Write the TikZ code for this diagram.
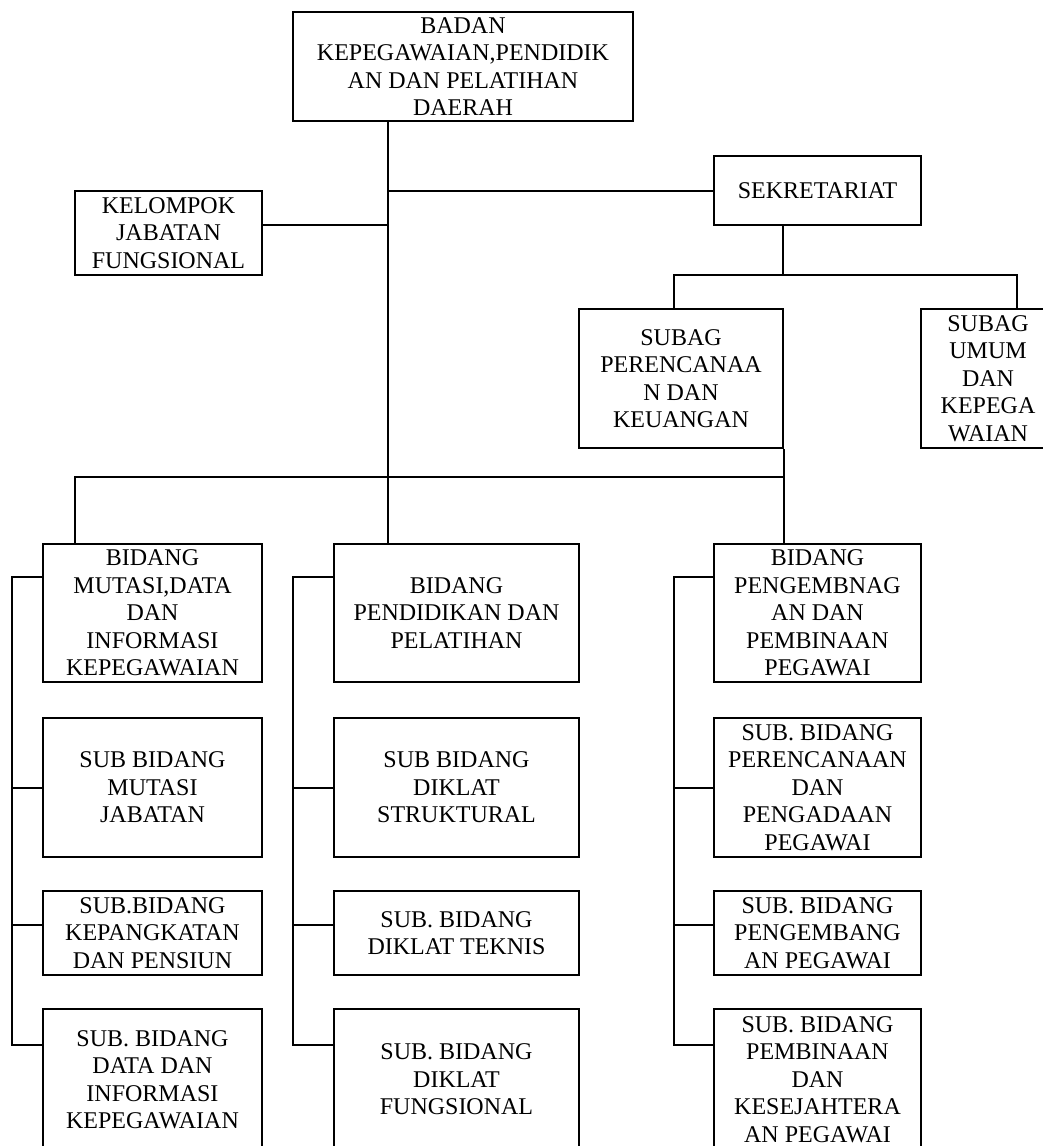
\documentclass[tikz,border=0pt]{standalone}
\usepackage{fontspec}
\setmainfont{Liberation Serif}
\begin{document}
\begin{tikzpicture}[x=1pt,y=1pt,
  box/.style={draw,line width=2pt,rectangle,inner sep=0pt,align=center,
    font=\fontsize{24}{27.5}\selectfont},
  conn/.style={line width=2pt}]
\useasboundingbox (0,0) rectangle (1043,-1146);
% boxes
\node[box,minimum width=340pt,minimum height=109pt] (top) at (463,-66.5) {BADAN\\KEPEGAWAIAN,PENDIDIK\\AN DAN PELATIHAN\\DAERAH};
\node[box,minimum width=187pt,minimum height=84pt] (kel) at (168.5,-233) {KELOMPOK\\JABATAN\\FUNGSIONAL};
\node[box,minimum width=207pt,minimum height=69pt] (sek) at (817.5,-190.5) {SEKRETARIAT};
\node[box,minimum width=204pt,minimum height=139pt] (sper) at (681,-378.5) {SUBAG\\PERENCANAA\\N DAN\\KEUANGAN};
\node[box,minimum width=134pt,minimum height=139pt] (sumum) at (988,-378.5) {SUBAG\\UMUM\\DAN\\KEPEGA\\WAIAN};
\node[box,minimum width=219pt,minimum height=138pt] (mut) at (152.5,-613) {BIDANG\\MUTASI,DATA\\DAN\\INFORMASI\\KEPEGAWAIAN};
\node[box,minimum width=245pt,minimum height=138pt] (pend) at (456.5,-613) {BIDANG\\PENDIDIKAN DAN\\PELATIHAN};
\node[box,minimum width=207pt,minimum height=138pt] (peng) at (817.5,-613) {BIDANG\\PENGEMBNAG\\AN DAN\\PEMBINAAN\\PEGAWAI};
% left column
\node[box,minimum width=219pt,minimum height=139pt] (l1) at (152.5,-787.5) {SUB BIDANG\\MUTASI\\JABATAN};
\node[box,minimum width=219pt,minimum height=84pt] (l2) at (152.5,-933) {SUB.BIDANG\\KEPANGKATAN\\DAN PENSIUN};
\node[box,minimum width=219pt,minimum height=141pt] (l3) at (152.5,-1079.5) {SUB. BIDANG\\DATA DAN\\INFORMASI\\KEPEGAWAIAN};
% middle column
\node[box,minimum width=245pt,minimum height=139pt] (m1) at (456.5,-787.5) {SUB BIDANG\\DIKLAT\\STRUKTURAL};
\node[box,minimum width=245pt,minimum height=84pt] (m2) at (456.5,-933) {SUB. BIDANG\\DIKLAT TEKNIS};
\node[box,minimum width=245pt,minimum height=141pt] (m3) at (456.5,-1079.5) {SUB. BIDANG\\DIKLAT\\FUNGSIONAL};
% right column
\node[box,minimum width=207pt,minimum height=139pt] (r1) at (817.5,-787.5) {SUB. BIDANG\\PERENCANAAN\\DAN\\PENGADAAN\\PEGAWAI};
\node[box,minimum width=207pt,minimum height=84pt] (r2) at (817.5,-933) {SUB. BIDANG\\PENGEMBANG\\AN PEGAWAI};
\node[box,minimum width=207pt,minimum height=141pt] (r3) at (817.5,-1079.5) {SUB. BIDANG\\PEMBINAAN\\DAN\\KESEJAHTERA\\AN PEGAWAI};
% coordinates
\coordinate (sp) at (388,-477);
\coordinate (bl) at (75,-477);
\coordinate (hl) at (674,-275);
\coordinate (hr) at (1017,-275);
\coordinate (sx) at (783,-275);
\coordinate (lb) at (12,0);
\coordinate (mb) at (293,0);
\coordinate (rb) at (674,0);
% main spine
\draw[conn] (sp |- top.south) -- (sp |- pend.north);
\draw[conn] (sp |- sek.west) -- (sek.west);
\draw[conn] ([yshift=8pt]kel.east) -- ([yshift=8pt]kel.east -| sp);
% secretariat
\draw[conn] (sx |- sek.south) -- (sx);
\draw[conn] (hl |- sper.north) -- (hl) -- (hr) -- (hr |- sumum.north);
\draw[conn] (sper.south east) -- (sper.south east |- peng.north);
% bus
\draw[conn] (bl |- mut.north) -- (bl) -- (sper.south east |- bl);
% brackets
\draw[conn] ([yshift=36pt]mut.west) -- ([yshift=36pt]mut.west -| lb) -- ([yshift=34.5pt]l3.west -| lb) -- ([yshift=34.5pt]l3.west);
\draw[conn] (l1.west) -- (l1.west -| lb);
\draw[conn] ([yshift=8pt]l2.west) -- ([yshift=8pt]l2.west -| lb);
\draw[conn] ([yshift=36pt]pend.west) -- ([yshift=36pt]pend.west -| mb) -- ([yshift=34.5pt]m3.west -| mb) -- ([yshift=34.5pt]m3.west);
\draw[conn] (m1.west) -- (m1.west -| mb);
\draw[conn] ([yshift=8pt]m2.west) -- ([yshift=8pt]m2.west -| mb);
\draw[conn] ([yshift=36pt]peng.west) -- ([yshift=36pt]peng.west -| rb) -- ([yshift=34.5pt]r3.west -| rb) -- ([yshift=34.5pt]r3.west);
\draw[conn] (r1.west) -- (r1.west -| rb);
\draw[conn] ([yshift=8pt]r2.west) -- ([yshift=8pt]r2.west -| rb);
\end{tikzpicture}
\end{document}
